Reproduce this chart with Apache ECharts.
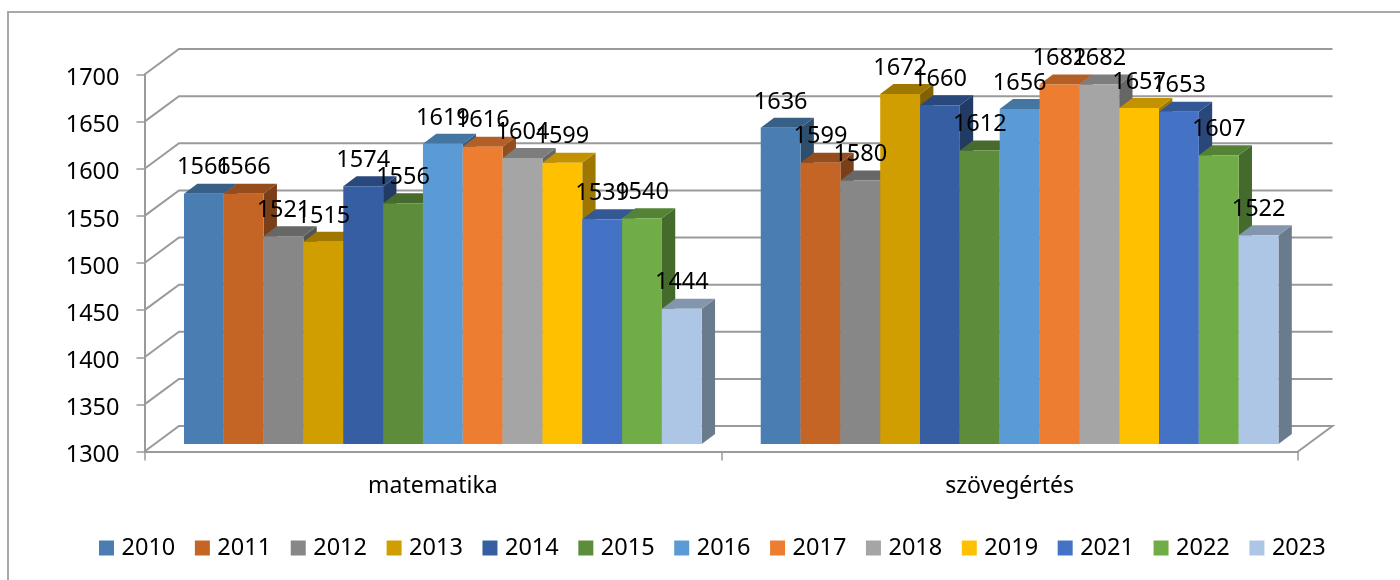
<!DOCTYPE html>
<html>
<head>
<meta charset="utf-8">
<style>html,body{margin:0;padding:0;background:#fff}#c{width:1400px;height:580px}</style>
<script src="https://cdn.jsdelivr.net/npm/echarts@6/dist/echarts.min.js"></script>
</head>
<body>
<div id="c"></div>
<script>
const categories = ['matematika', 'szövegértés'];
const years = ['2010','2011','2012','2013','2014','2015','2016','2017','2018','2019','2021','2022','2023'];
const matematika = [1566,1566,1521,1515,1574,1556,1619,1616,1604,1599,1539,1540,1444];
const szovegertes = [1636,1599,1580,1672,1660,1612,1656,1682,1682,1657,1653,1607,1522];
const yTicks = [1300,1350,1400,1450,1500,1550,1600,1650,1700];
const colors = ['#4A7EB2','#C46526','#878787','#D09E00','#365FA3','#5D8D3A','#5B9BD5','#ED7D31','#A5A5A5','#FFC000','#4472C4','#70AD47','#ADC6E5'];

const FONT = '"Noto Sans"';
const FS = 23.5;
const GRID = '#9A9A9A';
const wallDX = 34.5, wallDY = -25.5;   // depth of the floor / side wall
const barDX = 10, barDY = -7;          // bars stand inside that depth
const sideDX = 13.3, sideDY = -10;     // depth of a bar
const barShare = 39.83 / 576.75;       // bar width as a share of a category band

function shade(hex, k) {
  const n = parseInt(hex.slice(1), 16);
  const c = s => Math.round(((n >> s) & 255) * k);
  return 'rgb(' + c(16) + ',' + c(8) + ',' + c(0) + ')';
}

function renderWall(params, api) {
  const v = api.value(0);
  const cs = params.coordSys;
  const y = api.coord([0, v])[1];
  const x0 = cs.x, x1 = cs.x + cs.width;
  const pts = [[x0, y], [x0 + wallDX, y + wallDY], [x1 + wallDX, y + wallDY]];
  if (v === yTicks[0]) pts.push([x1, y]);
  return {
    type: 'polyline', z2: -10, silent: true,
    shape: { points: pts },
    style: { fill: null, stroke: GRID, lineWidth: 2 }
  };
}

function makeBarRenderer(i) {
  return function (params, api) {
    const cat = api.value(0), val = api.value(1);
    const band = api.size([1, 0])[0];
    const w = band * barShare;
    const c = api.coord([cat, val]);
    const base = api.coord([cat, yTicks[0]]);
    const x = c[0] + barDX + (i - 6.5) * w;
    const top = c[1] + barDY, bot = base[1] + barDY - 0.5;
    const col = colors[i];
    return {
      type: 'group',
      children: [
        { type: 'polygon', z2: 1, silent: true,
          shape: { points: [[x + w, top], [x + w + sideDX, top + sideDY], [x + w + sideDX, bot + sideDY], [x + w, bot]] },
          style: { fill: shade(col, 0.62) } },
        { type: 'polygon', z2: 1, silent: true,
          shape: { points: [[x, top], [x + sideDX, top + sideDY], [x + w + sideDX, top + sideDY], [x + w, top]] },
          style: { fill: shade(col, 0.76) } },
        { type: 'rect', z2: 1, silent: true,
          shape: { x: x, y: top, width: w, height: bot - top },
          style: { fill: col } },
        { type: 'text', z2: 100, silent: true,
          style: { x: x + w / 2, y: top - 26, text: String(val), align: 'center', verticalAlign: 'middle',
                   font: FS + 'px ' + FONT, fill: '#000' } }
      ]
    };
  };
}

const series = [{
  type: 'custom', name: 'walls', silent: true, animation: false,
  renderItem: renderWall, data: yTicks.map(v => [v]),
  encode: { y: 0 }, dimensions: ['v']
}];
years.forEach((yr, i) => {
  series.push({
    type: 'custom', name: yr, animation: false,
    itemStyle: { color: colors[i] },
    renderItem: makeBarRenderer(i),
    encode: { x: 0, y: 1 },
    data: [[0, matematika[i]], [1, szovegertes[i]]]
  });
});

const chart = echarts.init(document.getElementById('c'), null, { renderer: 'canvas' });
chart.setOption({
  animation: false,
  backgroundColor: '#fff',
  textStyle: { fontFamily: FONT },
  graphic: [{
    type: 'polyline', silent: true,
    shape: { points: [[8, 580], [8, 12], [1400, 12]] },
    style: { fill: null, stroke: '#A8A8A8', lineWidth: 2 }
  }],
  grid: { left: 144.5, top: 74.5, width: 1153.5, height: 377, containLabel: false },
  xAxis: {
    type: 'category', data: categories,
    axisLine: { lineStyle: { color: GRID, width: 2 } },
    axisTick: { show: true, alignWithLabel: false, length: 9, lineStyle: { color: GRID, width: 1.5 } },
    axisLabel: { color: '#000', fontSize: 23, fontFamily: FONT, margin: 23 },
    splitLine: { show: false }
  },
  yAxis: {
    type: 'value', min: 1300, max: 1700, interval: 50,
    axisLine: { show: true, lineStyle: { color: GRID, width: 2 } },
    axisTick: { show: true, length: 8, lineStyle: { color: GRID, width: 1.5 } },
    axisLabel: { color: '#000', fontSize: FS, fontFamily: FONT, margin: 25,
                 verticalAlign: 'top', lineHeight: 8,
                 formatter: v => String(v) },
    splitLine: { show: false }
  },
  legend: {
    data: years, left: 99, top: 536, padding: 0, icon: 'rect',
    itemWidth: 15, itemHeight: 15, itemGap: 19.6,
    textStyle: { color: '#000', fontSize: FS, fontFamily: FONT, padding: [0, 0, 0, 2.5] },
    selectedMode: false
  },
  series: series
});
</script>
</body>
</html>
